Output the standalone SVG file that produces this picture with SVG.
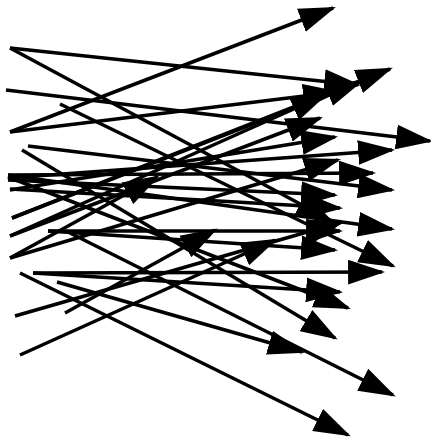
<svg xmlns="http://www.w3.org/2000/svg" width="431" height="441" viewBox="0 0 431 441">
<defs>
<marker id="ah" viewBox="0 0 12 8" refX="11" refY="4" markerWidth="37" markerHeight="25" orient="auto" markerUnits="userSpaceOnUse">
<path d="M0,0 L12,4 L0,8 z" fill="#000"/>
</marker>
<style>
.e line{stroke:#000;stroke-width:3.5;fill:none;marker-end:url(#ah);}
</style>
</defs>
<rect width="431" height="441" fill="#fff"/>
<g id="connectors" class="e">
<line x1="10" y1="132" x2="333" y2="8"/>
<line x1="10" y1="48" x2="358" y2="85"/>
<line x1="6" y1="90" x2="430" y2="141"/>
<line x1="10" y1="48" x2="330" y2="220"/>
<line x1="10" y1="132" x2="337" y2="92"/>
<line x1="60" y1="104" x2="393" y2="266"/>
<line x1="28" y1="146" x2="392" y2="190"/>
<line x1="22" y1="150" x2="335" y2="338"/>
<line x1="70" y1="233" x2="393" y2="395"/>
<line x1="20" y1="273" x2="348" y2="435"/>
<line x1="57" y1="282" x2="302" y2="352"/>
<line x1="8" y1="175" x2="373" y2="173"/>
<line x1="8" y1="177" x2="348" y2="308"/>
<line x1="10" y1="189" x2="340" y2="208"/>
<line x1="48" y1="231" x2="340" y2="231"/>
<line x1="33" y1="273" x2="382" y2="272"/>
<line x1="12" y1="218" x2="390" y2="69"/>
<line x1="10" y1="236" x2="325" y2="95"/>
<line x1="10" y1="258" x2="157" y2="177"/>
<line x1="15" y1="316" x2="342" y2="222"/>
<line x1="65" y1="313" x2="215" y2="230"/>
<line x1="20" y1="355" x2="275" y2="240"/>
<line x1="8" y1="178" x2="392" y2="150"/>
<line x1="10" y1="190" x2="335" y2="137"/>
<line x1="8" y1="175" x2="392" y2="229"/>
<line x1="10" y1="236" x2="320" y2="118"/>
<line x1="33" y1="273" x2="340" y2="292"/>
<line x1="8" y1="180" x2="335" y2="195"/>
<line x1="48" y1="231" x2="335" y2="250"/>
<line x1="12" y1="218" x2="360" y2="82"/>
<line x1="10" y1="258" x2="338" y2="160"/>
</g>
</svg>
